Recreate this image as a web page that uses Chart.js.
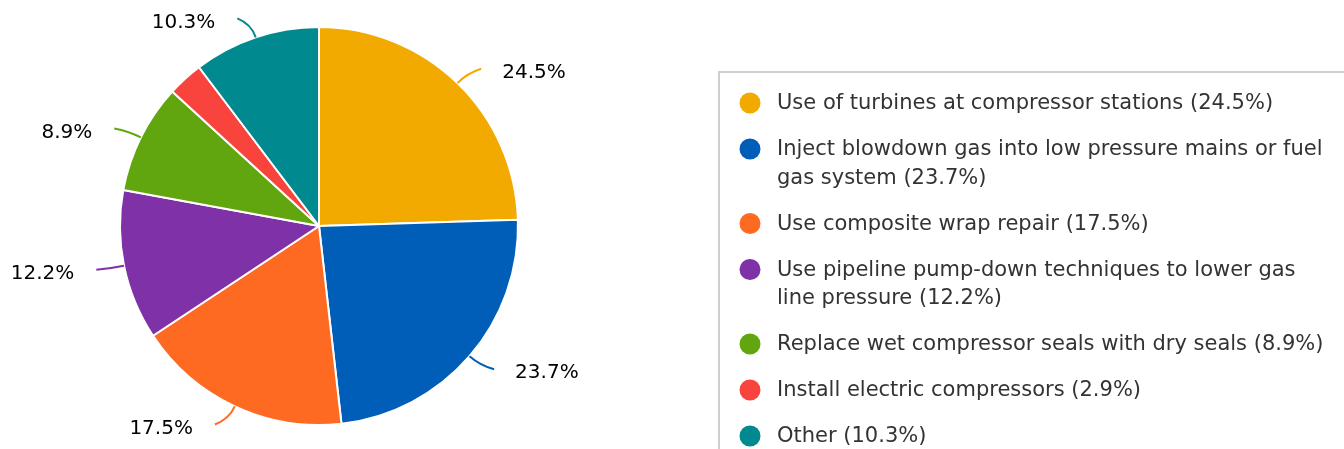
<!DOCTYPE html>
<html>
<head>
<meta charset="utf-8">
<title>Methane reduction options</title>
<script src="https://cdn.jsdelivr.net/npm/chart.js@4.4.1/dist/chart.umd.min.js"></script>
<style>
  html, body { margin: 0; padding: 0; background: #ffffff; overflow: hidden; }
  #wrap { width: 1344px; height: 449px; }
</style>
</head>
<body>
<div id="wrap"><canvas id="pieChart" width="1344" height="449"></canvas></div>
<script>
"use strict";

/* ================================
   DATA
   ================================ */
const categories = [
  "Use of turbines at compressor stations",
  "Inject blowdown gas into low pressure mains or fuel gas system",
  "Use composite wrap repair",
  "Use pipeline pump-down techniques to lower gas line pressure",
  "Replace wet compressor seals with dry seals",
  "Install electric compressors",
  "Other"
];
const shares = [24.5, 23.7, 17.5, 12.2, 8.9, 2.9, 10.3];
const sliceColors = ["#F2AA00", "#005EB8", "#FF6A22", "#7F31A7", "#62A60F", "#F8443D", "#008A90"];

/* ================================
   CONFIG
   ================================ */
const FONT = "'DejaVu Sans', Verdana, sans-serif";
const LABEL_MIN_SHARE = 3;   // small slices get no outside label (would collide)

const LEGEND = {
  boxX: 719,
  boxY: 72,
  dotX: 750,
  textX: 777,
  firstY: 103,
  maxWidth: 552,
  lineH: 28.5,
  gap: 17.5,
  dotR: 10.5,
  fontSize: 21
};

/* ================================
   HELPERS
   ================================ */
function $(id) { return document.getElementById(id); }

function pct(v) { return v.toFixed(1) + "%"; }

function wrapText(ctx, text, maxWidth) {
  const words = text.split(" ");
  const lines = [];
  let line = "";
  words.forEach(w => {
    const test = line ? line + " " + w : w;
    if (line && ctx.measureText(test).width > maxWidth) {
      lines.push(line);
      line = w;
    } else {
      line = test;
    }
  });
  if (line) lines.push(line);
  return lines;
}

/* ================================
   PLUGINS
   ================================ */
// outside labels with soft connectors
const sliceLabels = {
  id: "sliceLabels",
  afterDatasetsDraw(chart) {
    const ctx = chart.ctx;
    const meta = chart.getDatasetMeta(0);
    const values = chart.data.datasets[0].data;

    ctx.save();
    ctx.font = "20px " + FONT;
    ctx.textBaseline = "middle";

    meta.data.forEach((arc, i) => {
      if (values[i] < LABEL_MIN_SHARE) return;
      const { x, y, startAngle, endAngle, outerRadius } = arc.getProps(
        ["x", "y", "startAngle", "endAngle", "outerRadius"], true);
      const mid = (startAngle + endAngle) / 2;
      const dx = Math.cos(mid), dy = Math.sin(mid);
      const right = dx >= 0;

      const sx = x + outerRadius * dx, sy = y + outerRadius * dy;
      const bx = x + (outerRadius + 14) * dx, by = y + (outerRadius + 14) * dy;
      const ex = bx + (right ? 14 : -14), ey = by + 6 * dy;

      ctx.strokeStyle = chart.data.datasets[0].backgroundColor[i];
      ctx.lineWidth = 2;
      ctx.beginPath();
      ctx.moveTo(sx, sy);
      ctx.quadraticCurveTo(bx, by, ex, ey);
      ctx.stroke();

      ctx.fillStyle = "#000000";
      ctx.textAlign = right ? "left" : "right";
      ctx.fillText(pct(values[i]), ex + (right ? 21 : -22), ey + 4);
    });
    ctx.restore();
  }
};

// boxed legend with wrapped item text
const boxLegend = {
  id: "boxLegend",
  afterDraw(chart) {
    const ctx = chart.ctx;
    const values = chart.data.datasets[0].data;
    const colors = chart.data.datasets[0].backgroundColor;

    ctx.save();
    ctx.strokeStyle = "#cfcfcf";
    ctx.lineWidth = 2;
    ctx.strokeRect(LEGEND.boxX, LEGEND.boxY, chart.width, chart.height);

    ctx.font = LEGEND.fontSize + "px " + FONT;
    ctx.textBaseline = "middle";
    ctx.textAlign = "left";

    let yy = LEGEND.firstY;
    chart.data.labels.forEach((name, i) => {
      ctx.fillStyle = colors[i];
      ctx.beginPath();
      ctx.arc(LEGEND.dotX, yy, LEGEND.dotR, 0, Math.PI * 2);
      ctx.fill();

      const lines = wrapText(ctx, name + " (" + pct(values[i]) + ")", LEGEND.maxWidth);
      ctx.fillStyle = "#333333";
      lines.forEach((ln, k) => ctx.fillText(ln, LEGEND.textX, yy + k * LEGEND.lineH + 1));

      yy += lines.length * LEGEND.lineH + LEGEND.gap;
    });
    ctx.restore();
  }
};

/* ================================
   CHART
   ================================ */
function initChart() {
  new Chart($("pieChart").getContext("2d"), {
    type: "pie",
    data: {
      labels: categories,
      datasets: [{
        data: shares,
        backgroundColor: sliceColors,
        borderColor: "#ffffff",
        borderWidth: 2
      }]
    },
    options: {
      responsive: false,
      devicePixelRatio: 1,
      animation: false,
      layout: { padding: { left: 119, right: 825, top: 26, bottom: 23 } },
      plugins: { legend: { display: false }, tooltip: { enabled: false } }
    },
    plugins: [sliceLabels, boxLegend]
  });
}

document.addEventListener("DOMContentLoaded", initChart);
</script>
</body>
</html>
